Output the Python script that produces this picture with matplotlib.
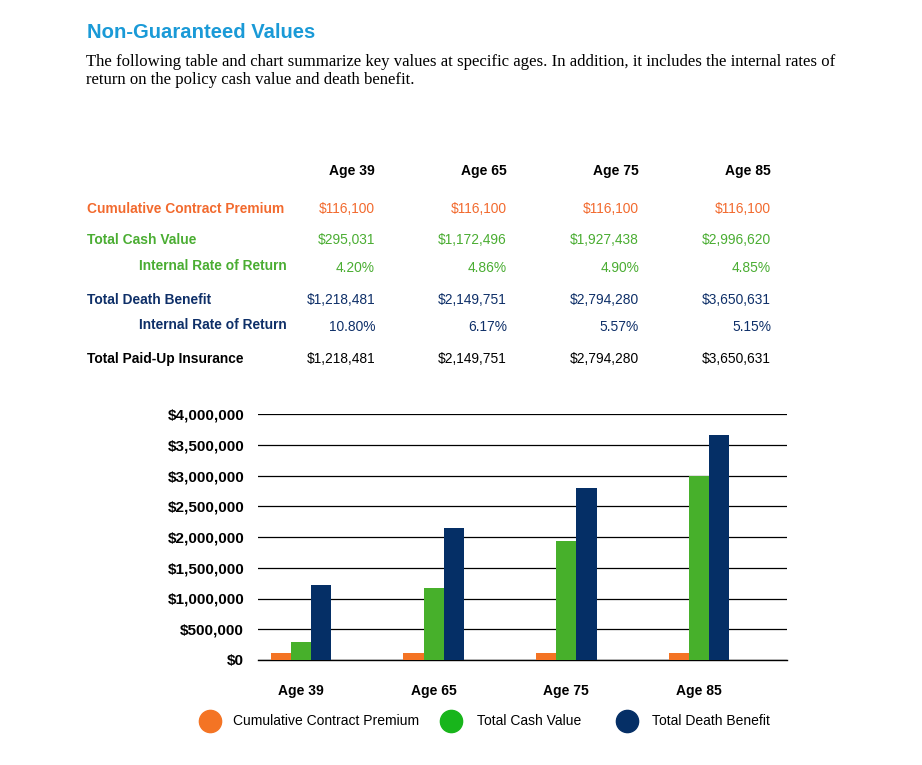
import matplotlib
matplotlib.use("Agg")
import matplotlib.pyplot as plt
from matplotlib.lines import Line2D
import numpy as np

# data
ages = ["Age 39", "Age 65", "Age 75", "Age 85"]
premium = [116100, 116100, 116100, 116100]
cash_value = [295031, 1172496, 1927438, 2996620]
cash_irr = ["4.20%", "4.86%", "4.90%", "4.85%"]
death_benefit = [1218481, 2149751, 2794280, 3650631]
death_irr = ["10.80%", "6.17%", "5.57%", "5.15%"]
paid_up = [1218481, 2149751, 2794280, 3650631]
y_ticks = [0, 500000, 1000000, 1500000, 2000000, 2500000, 3000000, 3500000, 4000000]
series_names = ["Cumulative Contract Premium", "Total Cash Value", "Total Death Benefit"]

ORANGE = "#f26a2e"
GREEN = "#4aad32"
NAVY = "#0e2f68"
BAR_ORANGE = "#f47424"
BAR_GREEN = "#47b02b"
BAR_NAVY = "#052f66"
BLUE_TITLE = "#1a9ad7"

SANS = ["Liberation Sans", "DejaVu Sans"]
SERIF = ["Liberation Serif", "DejaVu Serif"]

W, H = 922, 765
fig = plt.figure(figsize=(W / 100, H / 100), dpi=100)


def px(x, y):
    return x / W, 1 - y / H


def money(v):
    return "${:,.0f}".format(v)


# heading + intro
fig.text(*px(87, 32), "Non-Guaranteed Values", color=BLUE_TITLE, fontsize=14.6,
         fontweight="bold", family=SANS, va="center", ha="left")
fig.text(*px(86, 62), "The following table and chart summarize key values at specific ages. In addition, it includes the internal rates of",
         fontsize=12.1, family=SERIF, va="center", ha="left")
fig.text(*px(86, 80), "return on the policy cash value and death benefit.",
         fontsize=12.1, family=SERIF, va="center", ha="left")

# table
col_x = [375, 507, 639, 771]
tsize = 9.9
for cx, a in zip(col_x, ages):
    fig.text(*px(cx, 171), a, fontsize=10, fontweight="bold", family=SANS, ha="right", va="center")

rows = [
    (209, "Cumulative Contract Premium", ORANGE, [money(v) for v in premium], "left"),
    (240, "Total Cash Value", GREEN, [money(v) for v in cash_value], "left"),
    (266, "Internal Rate of Return", GREEN, cash_irr, "right"),
    (300, "Total Death Benefit", NAVY, [money(v) for v in death_benefit], "left"),
    (325, "Internal Rate of Return", NAVY, death_irr, "right"),
    (359, "Total Paid-Up Insurance", "black", [money(v) for v in paid_up], "left"),
]
for y, label, col, vals, align in rows:
    lx = 87 if align == "left" else 287
    fig.text(*px(lx, y), label, color=col, fontsize=tsize, fontweight="bold",
             family=SANS, ha=align, va="center")
    for cx, v in zip(col_x, vals):
        vy = y + 2 if align == "right" else y
        fig.text(*px(cx, vy), v, color=col, fontsize=tsize, family=SANS, ha="right", va="center")

# chart
ax = fig.add_axes([258 / W, 1 - 660 / H, (787 - 258) / W, (660 - 414) / H])
x = np.arange(len(ages))
bw = 0.152
ax.bar(x - bw, premium, bw, color=BAR_ORANGE, zorder=3)
ax.bar(x, cash_value, bw, color=BAR_GREEN, zorder=3)
ax.bar(x + bw, death_benefit, bw, color=BAR_NAVY, zorder=3)

ax.set_xlim(-0.324, 3.663)
ax.set_ylim(0, 4000000)
ax.set_yticks(y_ticks)
ax.set_yticklabels([money(v) for v in y_ticks], fontsize=11, fontweight="bold", family=SANS)
ax.set_xticks(x)
ax.set_xticklabels(ages, fontsize=10, fontweight="bold", family=SANS)
ax.tick_params(axis="y", length=0, pad=10)
ax.tick_params(axis="x", length=0, pad=17)
ax.grid(axis="y", color="black", lw=0.9, zorder=0)
for s in ["top", "right", "left"]:
    ax.spines[s].set_visible(False)
ax.spines["bottom"].set_color("black")
ax.spines["bottom"].set_linewidth(1.0)

# legend, laid out by hand like the page
leg_colors = [BAR_ORANGE, "#18b51b", BAR_NAVY]
leg_dot_x = [210, 451, 627]
leg_text_x = [233, 477, 652]
for name, c, dx, tx in zip(series_names, leg_colors, leg_dot_x, leg_text_x):
    fig.add_artist(Line2D([dx / W], [1 - 721 / H], marker="o", ls="", markersize=16,
                          color=c, transform=fig.transFigure))
    fig.text(*px(tx, 721), name, fontsize=10, family=SANS, ha="left", va="center")

fig.savefig("out.png", dpi=100)
